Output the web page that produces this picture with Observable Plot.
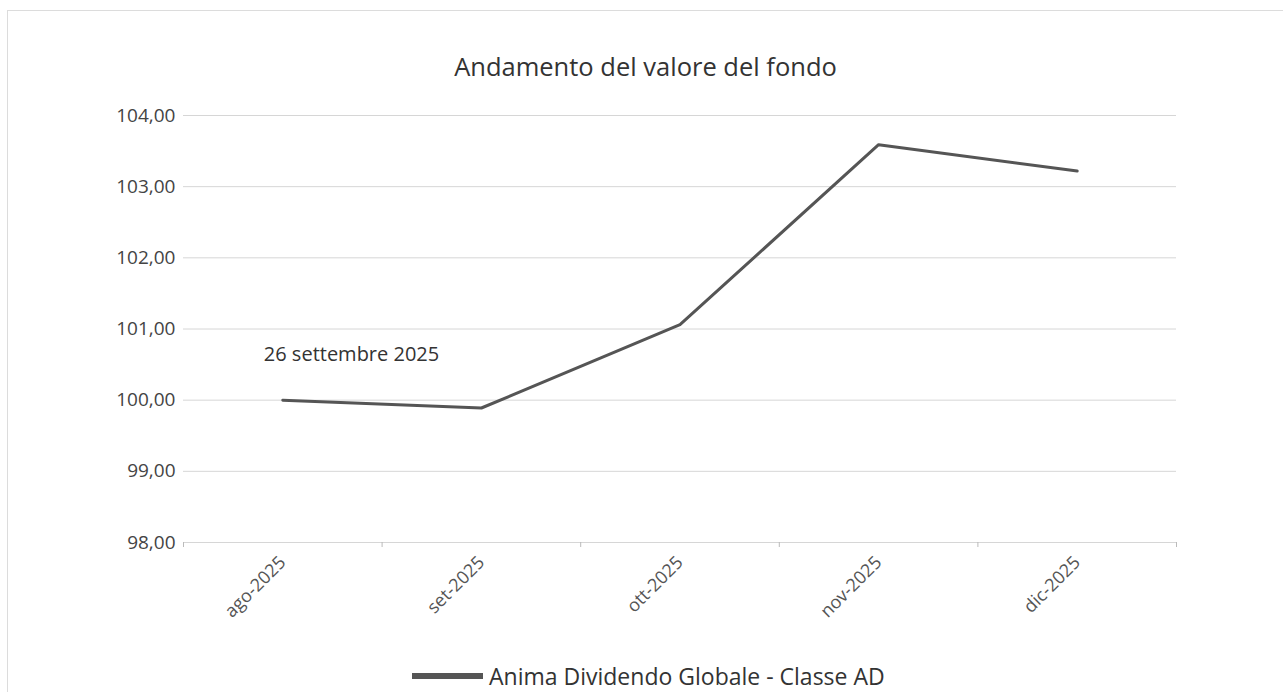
<!DOCTYPE html>
<html>
<head>
<meta charset="utf-8">
<script src="https://cdn.jsdelivr.net/npm/d3@7"></script>
<script src="https://cdn.jsdelivr.net/npm/@observablehq/plot@0.6"></script>
<style>
  body { margin: 0; background: #fff; font-family: "Open Sans", sans-serif; width: 1283px; height: 692px; overflow: hidden; position: relative; }
  #frame { position: absolute; left: 7px; top: 10px; width: 1300px; height: 700px; border: 1px solid #dcdcdc; box-sizing: border-box; }
  #title { position: absolute; top: 49px; left: 0; width: 1291px; text-align: center; font-size: 25.5px; font-weight: 500; color: #333; }
  #chart { position: absolute; left: 0; top: 0; }
  #legend { position: absolute; top: 661px; left: 412px; display: flex; align-items: center; font-size: 23px; color: #333; white-space: nowrap; line-height: 30px; }
  #legend .sw { width: 71px; height: 6px; background: #555; margin-right: 6px; }
</style>
</head>
<body>
<div id="frame"></div>
<div id="chart"></div>
<div id="title">Andamento del valore del fondo</div>
<div id="legend"><span class="sw"></span><span id="legendLabel"></span></div>
<script>
const categories = ["ago-2025", "set-2025", "ott-2025", "nov-2025", "dic-2025"];
const values = [100.00, 99.89, 101.06, 103.59, 103.22];
const yTicks = [98, 99, 100, 101, 102, 103, 104];
const seriesName = "Anima Dividendo Globale - Classe AD";
const annotationText = "26 settembre 2025";

document.getElementById("legendLabel").textContent = seriesName;

const data = categories.map((c, i) => ({cat: c, pos: i + 0.5, value: values[i]}));
const boundaries = d3.range(categories.length + 1);
const centers = data.map(d => d.pos);
const fmt = v => v.toFixed(2).replace(".", ",");

const chart = Plot.plot({
  width: 1283,
  height: 640,
  marginTop: 115,
  marginBottom: 98,
  marginLeft: 183,
  marginRight: 107,
  style: { fontFamily: "Open Sans, sans-serif", background: "transparent" },
  x: { type: "linear", domain: [0, categories.length], label: null },
  y: { domain: [98, 104], label: null },
  marks: [
    Plot.gridY(yTicks, { stroke: "#d6d6d6", strokeOpacity: 1 }),
    Plot.axisY(yTicks, { tickSize: 0, tickPadding: 8, tickFormat: fmt, fontSize: 19, fill: "#444", label: null }),
    Plot.axisX(boundaries, { tickSize: 5, tickFormat: () => "", stroke: "#bbb", label: null }),
    Plot.axisX(centers, {
      tickSize: 0, tickPadding: 17, tickRotate: -45, fontSize: 18, fill: "#555", label: null,
      tickFormat: v => categories[Math.round(v - 0.5)]
    }),
    Plot.lineY(data, { x: "pos", y: "value", stroke: "#555", strokeWidth: 3 }),
    Plot.text([data[0]], { x: "pos", y: "value", text: () => annotationText, textAnchor: "start", dx: -19, dy: -46, fontSize: 20, fill: "#333" })
  ]
});
document.getElementById("chart").appendChild(chart);
</script>
</body>
</html>
